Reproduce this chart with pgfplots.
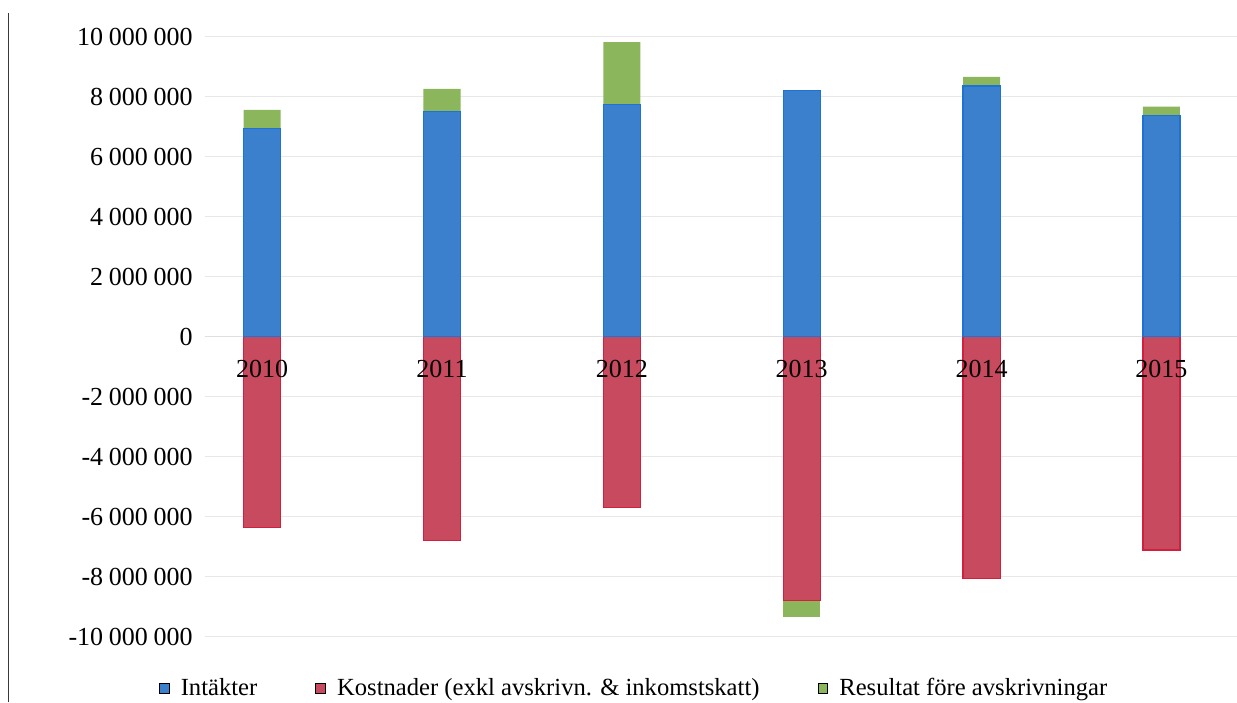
\documentclass[border=0pt]{standalone}
\usepackage{fontspec}
\setmainfont{Liberation Serif}
\usepackage{pgfplots}
\pgfplotsset{compat=1.18}

\definecolor{intBlue}{HTML}{3A80CC}
\definecolor{intBlueEdge}{HTML}{1E72D6}
\definecolor{kostRed}{HTML}{C74A5F}
\definecolor{kostRedEdge}{HTML}{D31F3E}
\definecolor{resGreen}{HTML}{8BB65B}

\pgfplotsset{
  chartgeom/.style={
    at={(0pt,0pt)}, anchor=south west,
    scale only axis,
    width=516pt, height=315pt,
    ybar stacked, bar width=18.5pt,
    xmin=-0.32, xmax=5.42,
    ymin=-10500000, ymax=10500000,
    axis x line=middle, axis y line=left,
    x axis line style={draw=gray!25,-},
    y axis line style={draw=none},
    major tick length=0pt,
  },
}

\begin{document}
\begin{tikzpicture}
% negative side: costs with the negative result stacked below; grid and y labels
\begin{axis}[
  chartgeom,
  ytick={-10000000,-8000000,-6000000,-4000000,-2000000,0,2000000,4000000,6000000,8000000,10000000},
  xtick=\empty,
  ymajorgrids, grid style={gray!18, line width=0.5pt},
  scaled y ticks=false,
  /pgf/number format/assume math mode=true,
  yticklabel style={/pgf/number format/fixed,
    /pgf/number format/1000 sep={\hspace{0.22em}},
    font=\fontsize{13}{15}\selectfont, inner sep=0pt, anchor=east, xshift=-5.75pt},
]
\addplot[fill=kostRed, draw=kostRedEdge, line width=0.6pt]
  coordinates {(0,-6340000) (1,-6790000) (2,-5690000) (3,-8780000) (4,-8050000) (5,-7100000)};
\addplot[fill=resGreen, draw=none]
  coordinates {(0,0) (1,0) (2,0) (3,-540000) (4,0) (5,0)};
\end{axis}
% positive side: revenue with the positive result on top; year labels and legend
\begin{axis}[
  chartgeom,
  ytick=\empty,
  xtick={0,1,2,3,4,5},
  xticklabels={2010,2011,2012,2013,2014,2015},
  xticklabel style={font=\fontsize{13}{15}\selectfont, inner sep=0pt, anchor=north, yshift=-11.5pt},
  legend columns=3,
  legend style={draw=none, fill=none, at={(0.417,-0.0576)}, anchor=center,
    font=\fontsize{12.3}{14}\selectfont,
    /tikz/every even column/.append style={column sep=27pt}},
  legend image code/.code={\fill[#1] (0pt,-2.4pt) rectangle (4.8pt,2.4pt); \path (8.5pt,0pt);},
]
\addplot[fill=intBlue, draw=intBlueEdge, line width=0.6pt, forget plot]
  coordinates {(0,6950000) (1,7520000) (2,7750000) (3,8220000) (4,8360000) (5,7380000)};
\addplot[fill=resGreen, draw=none, forget plot]
  coordinates {(0,610000) (1,740000) (2,2070000) (3,0) (4,300000) (5,290000)};

\addlegendimage{fill=intBlue}
\addlegendentry{Intäkter}
\addlegendimage{fill=kostRed}
\addlegendentry{Kostnader (exkl avskrivn. \& inkomstskatt)}
\addlegendimage{fill=resGreen}
\addlegendentry{Resultat före avskrivningar}
\end{axis}
\draw[gray!45!black, line width=0.5pt] (-98.25pt,-25.15pt) -- (-98.25pt,319.3pt);
\pgfresetboundingbox
\useasboundingbox (-102.25pt,-25.15pt) rectangle (516pt,325.85pt);
\end{tikzpicture}
\end{document}
